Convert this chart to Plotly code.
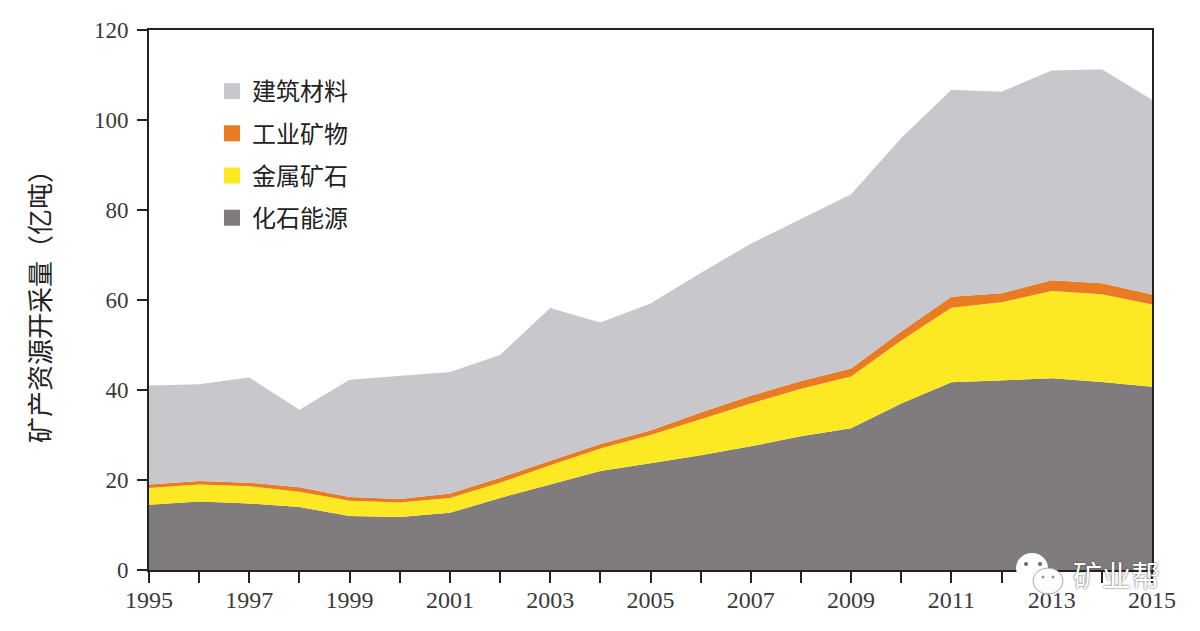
import plotly.graph_objects as go

years = list(range(1995, 2016))
fossil = [14.5, 15.2, 14.8, 14.0, 12.0, 11.8, 12.7, 16.0, 19.0, 22.0, 23.7, 25.5, 27.5, 29.7, 31.5, 37.0, 41.7, 42.2, 42.6, 41.8, 40.7]
metal = [3.7, 3.8, 3.8, 3.4, 3.4, 3.2, 3.3, 3.4, 4.3, 5.0, 6.3, 8.0, 9.5, 10.6, 11.5, 14.0, 16.6, 17.3, 19.4, 19.5, 18.3]
industrial = [0.8, 0.8, 0.8, 1.0, 0.8, 0.8, 1.0, 1.1, 1.0, 1.0, 1.0, 1.5, 1.7, 1.7, 1.8, 2.0, 2.4, 2.0, 2.4, 2.4, 2.2]
building = [22.0, 21.5, 23.4, 17.2, 26.1, 27.4, 27.0, 27.3, 33.9, 27.0, 28.2, 31.0, 33.8, 36.0, 38.7, 43.0, 46.0, 44.8, 46.6, 47.6, 43.3]

series = [
    ("化石能源", fossil, "#807c7e"),
    ("金属矿石", metal, "#fce924"),
    ("工业矿物", industrial, "#e97b23"),
    ("建筑材料", building, "#c8c7cb"),
]
y_ticks = [0, 20, 40, 60, 80, 100, 120]
x_tick_text = [str(y) if (y - 1995) % 2 == 0 else "" for y in years]

CJK = "Noto Sans CJK SC"
SERIF = "Liberation Serif"
INK = "#3a3a3a"

L, R, T, B = 149, 1152, 30, 570
def px(x):
    return (x - L) / (R - L)
def py(y):
    return (B - y) / (B - T)

fig = go.Figure()
for name, vals, col in series:
    fig.add_trace(go.Scatter(
        x=years, y=vals, name=name, mode="lines", stackgroup="one",
        line=dict(width=0, color=col), fillcolor=col, showlegend=False,
    ))
for name, vals, col in reversed(series):
    fig.add_trace(go.Scatter(
        x=[None], y=[None], name=name, mode="markers", legendgroup=name,
        marker=dict(symbol="square", size=20, color=col),
    ))

fig.update_layout(
    width=1200, height=631, autosize=False,
    margin=dict(l=L, r=1200 - R, t=T, b=631 - B, pad=0),
    paper_bgcolor="white", plot_bgcolor="white",
    font=dict(family=SERIF, size=23, color=INK),
    legend=dict(
        x=px(212), y=py(69), xanchor="left", yanchor="top",
        bgcolor="rgba(0,0,0,0)", traceorder="grouped", tracegroupgap=8,
        font=dict(family=CJK, size=24, color="#222222"),
        itemwidth=30,
    ),
    xaxis=dict(
        range=[1995, 2015], tickmode="array", tickvals=years, ticktext=x_tick_text,
        ticks="outside", ticklen=11, tickwidth=2, tickcolor="#222222",
        showline=True, linecolor="#222222", linewidth=2, mirror=True,
        showgrid=False, zeroline=False, tickangle=0, ticklabelstandoff=-4,
        tickfont=dict(family=SERIF, size=24, color=INK),
    ),
    yaxis=dict(
        range=[0, 120], tickmode="array", tickvals=y_ticks,
        ticks="outside", ticklen=10, tickwidth=2, tickcolor="#222222",
        showline=True, linecolor="#222222", linewidth=2, mirror=True,
        showgrid=False, zeroline=False, ticklabelstandoff=4,
        tickfont=dict(family=SERIF, size=23, color=INK),
        title=dict(text="矿产资源开采量（亿吨）", font=dict(family=CJK, size=26, color="#222222"), standoff=36),
    ),
)

# watermark: two speech bubbles and the account name
def blob(cx, cy, rx, ry, fill, line=None):
    fig.add_shape(type="circle", xref="paper", yref="paper",
                  x0=px(cx - rx), x1=px(cx + rx), y0=py(cy + ry), y1=py(cy - ry),
                  fillcolor=fill, line=dict(width=1 if line else 0, color=line or fill))

blob(1032, 568, 16, 15, "white")
blob(1026, 564, 2, 2, "#666666")
blob(1040, 564, 2, 2, "#666666")
blob(1048, 581, 15, 13, "white", "#aaaaaa")
blob(1043, 577, 1.5, 1.5, "#999999")
blob(1053, 577, 1.5, 1.5, "#999999")
fig.add_annotation(
    xref="paper", yref="paper", x=px(1116), y=py(574), xanchor="center", yanchor="middle",
    text="矿业帮", showarrow=False,
    font=dict(family=CJK, size=29, color="white", shadow="0 0 2px #333333"),
)

fig.write_html("out.html", post_script="document.body.style.margin='0';", config={"displayModeBar": False})
